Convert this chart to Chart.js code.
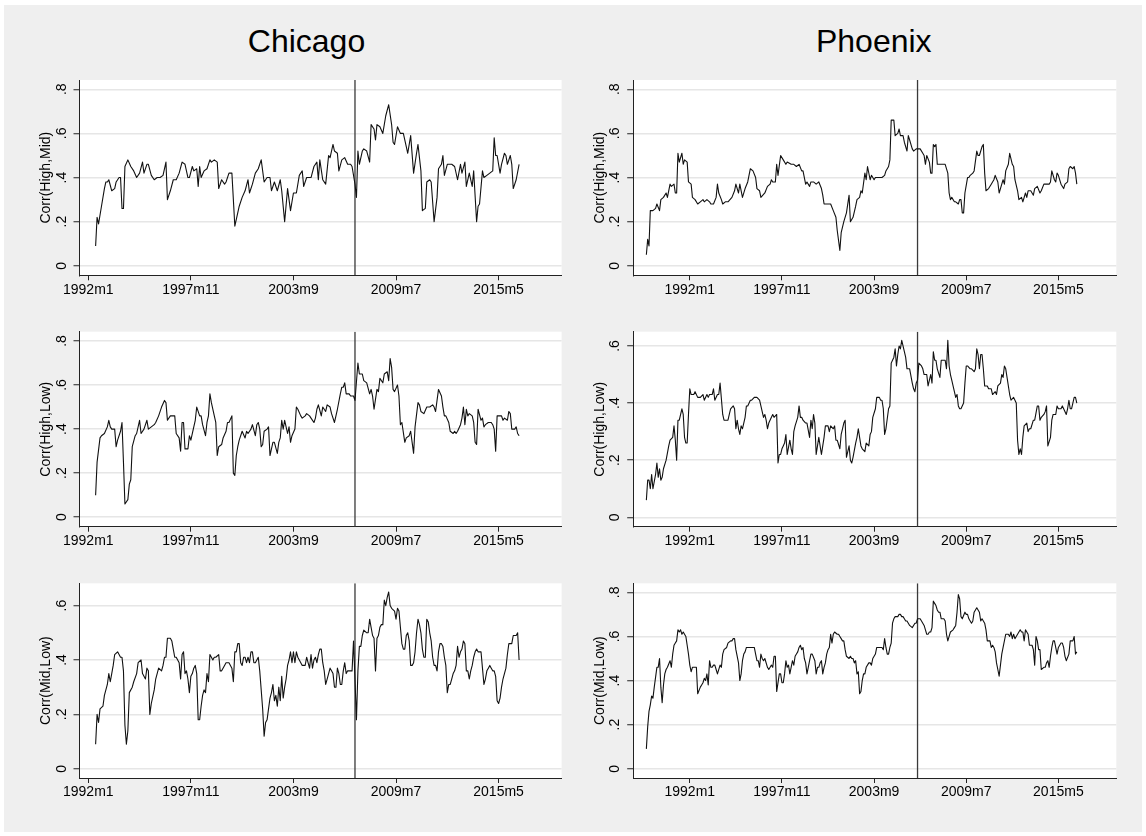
<!DOCTYPE html>
<html>
<head>
<meta charset="utf-8">
<script src="https://cdn.jsdelivr.net/npm/chart.js@4.4.0/dist/chart.umd.min.js"></script>
<style>
html,body{margin:0;padding:0;background:#ffffff;}
body{width:1146px;height:836px;position:relative;overflow:hidden;font-family:"Liberation Sans",Arial,sans-serif;}
#bg{position:absolute;left:4px;top:5px;width:1138px;height:827px;background:#efefef;}
.ttl{position:absolute;width:300px;text-align:center;font-size:32px;line-height:32px;color:#000;white-space:nowrap;}
canvas{position:absolute;}
</style>
</head>
<body>
<div id="bg"></div>
<script>
// ================= DATA =================
const cities = ['Chicago', 'Phoenix'];
const pairLabels = ['Corr(High,Mid)', 'Corr(High,Low)', 'Corr(Mid,Low)'];
// x values are months since 1992m1 (Stata monthly dates shifted)
const xTickMonths = [0, 70, 140, 210, 280];
const yTicksTo08 = [0, 0.2, 0.4, 0.6, 0.8];
const yTicksTo06 = [0, 0.2, 0.4, 0.6];
const breakMonthChicago = 182; // 2007m3
const breakMonthPhoenix = 173; // 2006m6

const chicagoHighMidMonths = [5,6,7,9,11,12,13,14,16,18,19,21,22,23,24,25,27,29,31,33,35,37,38,40,41,43,45,47,49,51,53,54,56,58,60,62,64,66,68,69,71,72,74,75,76,77,79,81,83,84,86,88,89,91,93,94,96,98,100,103,105,107,109,110,112,114,116,118,120,122,124,125,127,129,131,132,134,136,138,140,142,144,146,147,149,152,154,156,157,158,160,162,164,165,167,168,170,171,173,175,177,179,180,182,183,184,185,187,188,190,192,193,195,196,197,199,201,203,205,207,208,209,211,213,215,217,218,220,222,224,225,227,228,230,231,233,234,236,238,239,241,242,243,245,247,248,250,252,254,255,257,258,260,262,263,265,266,267,269,270,272,274,276,277,278,279,281,282,284,285,286,288,289,290,292,294];
const chicagoHighMidValues = [.09,.22,.19,.27,.35,.38,.38,.39,.34,.35,.38,.40,.40,.26,.26,.45,.48,.45,.43,.40,.42,.47,.42,.46,.46,.41,.39,.40,.40,.41,.47,.30,.34,.39,.39,.42,.47,.46,.40,.40,.45,.43,.44,.36,.45,.40,.43,.44,.48,.47,.48,.47,.35,.39,.37,.38,.42,.42,.18,.27,.31,.34,.39,.33,.37,.42,.44,.48,.38,.40,.40,.34,.38,.34,.39,.34,.20,.35,.25,.33,.33,.41,.43,.36,.40,.40,.45,.47,.39,.48,.39,.37,.50,.49,.55,.52,.51,.43,.48,.49,.46,.46,.45,.37,.31,.52,.46,.52,.53,.52,.47,.64,.62,.57,.64,.63,.60,.68,.73,.64,.56,.55,.63,.60,.60,.54,.51,.59,.42,.51,.55,.43,.25,.26,.38,.39,.38,.20,.31,.44,.46,.50,.41,.46,.46,.46,.45,.39,.46,.42,.47,.36,.42,.36,.43,.20,.27,.28,.43,.40,.41,.42,.43,.58,.50,.50,.42,.46,.51,.50,.46,.50,.46,.35,.39,.46];

const phoenixHighMidMonths = [-33,-32,-31,-30,-28,-26,-25,-23,-22,-20,-18,-17,-15,-14,-12,-11,-10,-9,-8,-6,-5,-4,-2,-1,1,2,4,6,8,10,11,13,15,16,18,20,21,22,24,25,27,29,32,34,35,37,38,40,42,44,46,48,50,51,53,54,57,59,61,62,63,65,66,67,69,71,73,74,77,79,81,83,85,86,88,89,91,92,94,96,98,100,101,102,104,106,107,109,111,112,114,115,117,119,121,122,124,126,127,129,130,131,133,134,135,137,138,140,141,144,146,148,149,151,152,153,155,156,158,159,160,162,163,165,166,167,169,170,172,173,175,177,178,179,180,182,183,184,185,186,187,188,189,191,192,194,196,197,198,199,201,202,204,205,206,207,208,209,211,212,213,215,216,218,219,220,222,223,224,225,227,229,231,232,234,235,237,238,239,240,242,243,245,246,247,249,250,252,253,255,256,257,259,261,262,264,266,267,269,271,273,274,275,277,278,279,280,282,284,285,287,288,289,291,292,293,294];
const phoenixHighMidValues = [.05,.12,.09,.25,.25,.26,.28,.25,.30,.31,.33,.31,.37,.36,.37,.33,.33,.51,.47,.51,.46,.48,.47,.38,.37,.31,.30,.28,.29,.30,.29,.30,.29,.28,.28,.31,.37,.33,.30,.28,.29,.29,.31,.34,.37,.33,.37,.31,.35,.38,.44,.43,.40,.35,.34,.31,.33,.36,.37,.39,.38,.38,.46,.41,.50,.48,.46,.47,.46,.46,.45,.46,.43,.43,.37,.38,.36,.38,.38,.37,.38,.35,.32,.28,.28,.28,.28,.25,.22,.16,.07,.15,.20,.24,.32,.20,.22,.27,.30,.31,.34,.33,.42,.39,.45,.39,.41,.39,.40,.40,.40,.41,.43,.45,.48,.66,.66,.59,.60,.62,.59,.59,.56,.52,.59,.57,.53,.52,.53,.53,.53,.51,.50,.46,.50,.47,.42,.42,.55,.54,.55,.46,.46,.46,.46,.46,.42,.33,.30,.31,.29,.29,.28,.30,.30,.24,.24,.33,.40,.40,.41,.42,.43,.52,.50,.50,.54,.55,.42,.34,.35,.37,.39,.41,.38,.33,.37,.39,.37,.43,.46,.51,.46,.45,.39,.34,.30,.31,.29,.33,.31,.34,.34,.32,.35,.36,.33,.34,.37,.37,.37,.38,.43,.39,.38,.42,.41,.37,.35,.37,.38,.44,.45,.44,.45,.42,.37];

const chicagoHighLowMonths = [5,6,8,9,11,13,14,15,16,18,19,20,22,23,24,25,27,28,29,30,32,33,35,36,38,40,41,43,45,46,48,50,52,53,54,56,57,59,60,62,63,64,65,66,68,69,70,72,73,74,76,77,78,80,81,82,83,84,86,87,88,89,91,92,94,95,96,98,99,100,101,102,103,105,107,108,109,111,112,114,115,116,117,118,119,120,122,123,124,125,126,127,129,130,131,132,133,134,136,137,138,139,141,142,143,145,146,148,149,151,152,154,155,156,157,159,160,162,163,165,166,168,169,170,172,173,174,175,176,178,179,181,182,184,185,187,188,190,192,193,194,195,197,198,199,201,202,204,205,206,207,208,209,211,212,213,214,216,217,219,220,221,222,223,225,226,227,229,231,233,235,236,237,238,239,241,242,243,244,246,247,249,250,251,252,254,255,256,257,258,259,260,262,263,264,265,266,268,269,270,271,273,275,276,277,278,279,280,282,283,284,286,287,288,289,291,292,293,294];
const chicagoHighLowValues = [.10,.25,.36,.37,.38,.41,.44,.41,.40,.40,.32,.35,.39,.43,.25,.06,.08,.15,.17,.32,.37,.38,.44,.38,.40,.44,.40,.41,.42,.43,.46,.50,.53,.52,.44,.46,.46,.46,.38,.36,.30,.43,.43,.31,.31,.37,.35,.41,.44,.50,.46,.46,.42,.37,.43,.46,.56,.52,.46,.43,.28,.32,.33,.36,.39,.43,.43,.46,.20,.19,.28,.32,.35,.39,.36,.39,.38,.40,.42,.37,.42,.43,.40,.32,.33,.39,.40,.41,.28,.31,.34,.34,.29,.34,.36,.44,.40,.44,.38,.41,.34,.37,.40,.50,.49,.46,.45,.46,.47,.46,.45,.43,.45,.49,.51,.46,.50,.48,.51,.50,.47,.43,.46,.49,.56,.59,.59,.61,.56,.56,.55,.55,.53,.70,.65,.65,.62,.61,.56,.58,.55,.49,.58,.57,.63,.61,.65,.66,.62,.72,.68,.58,.57,.60,.55,.42,.43,.34,.36,.37,.39,.34,.29,.41,.52,.51,.48,.47,.50,.50,.51,.50,.48,.53,.58,.55,.50,.46,.46,.43,.39,.38,.39,.38,.39,.42,.45,.50,.42,.49,.46,.47,.46,.43,.34,.33,.49,.44,.45,.41,.42,.43,.43,.42,.40,.30,.46,.46,.46,.44,.45,.44,.48,.47,.40,.40,.41,.38,.37];

const phoenixHighLowMonths = [-33,-32,-31,-30,-29,-28,-26,-25,-24,-23,-22,-21,-20,-18,-16,-15,-13,-12,-11,-10,-9,-8,-6,-5,-4,-3,-2,-1,0,1,3,4,6,7,8,10,11,13,14,15,17,18,19,21,22,23,25,26,27,29,30,31,33,34,35,36,37,38,39,40,42,43,44,46,47,49,51,53,54,56,57,58,59,60,62,63,64,66,67,68,69,70,71,72,73,74,76,77,78,79,80,82,83,84,85,86,88,89,91,92,93,94,95,96,97,98,100,101,102,103,105,106,107,109,110,111,112,114,115,116,117,118,119,121,122,123,124,126,127,128,130,131,133,134,136,137,138,139,141,142,144,145,146,147,148,149,151,152,153,154,155,156,157,158,159,160,161,163,164,165,166,167,169,170,171,172,173,174,176,177,178,180,181,183,184,185,186,187,188,190,191,192,194,195,196,197,198,199,200,202,203,204,205,206,208,209,210,211,213,214,216,217,218,219,220,221,222,223,224,225,226,227,229,230,232,233,234,236,237,238,239,240,241,243,244,246,247,248,249,250,251,252,253,254,256,257,258,259,261,262,264,265,266,267,269,270,271,272,274,275,276,278,279,280,282,283,284,286,287,288,289,290,291,292,293,294];
const phoenixHighLowValues = [.06,.13,.13,.10,.15,.10,.15,.19,.14,.17,.13,.14,.17,.20,.25,.27,.28,.32,.27,.20,.34,.34,.38,.36,.28,.26,.26,.36,.45,.43,.43,.44,.42,.42,.42,.43,.41,.43,.42,.43,.43,.45,.41,.43,.43,.47,.36,.34,.34,.34,.36,.38,.39,.38,.31,.34,.31,.29,.32,.31,.35,.39,.39,.41,.41,.42,.42,.41,.39,.35,.36,.34,.31,.33,.35,.36,.35,.36,.19,.22,.22,.24,.25,.26,.29,.22,.27,.24,.22,.30,.32,.35,.39,.35,.35,.34,.33,.33,.28,.34,.31,.36,.33,.22,.25,.28,.22,.25,.28,.32,.32,.30,.32,.31,.32,.27,.27,.24,.29,.31,.33,.34,.21,.25,.20,.19,.21,.26,.28,.31,.25,.24,.23,.26,.25,.29,.30,.35,.38,.42,.42,.41,.41,.38,.29,.31,.38,.39,.54,.55,.56,.59,.53,.57,.60,.59,.62,.58,.56,.52,.52,.52,.47,.45,.44,.47,.48,.54,.53,.52,.50,.50,.46,.50,.47,.58,.55,.55,.52,.49,.55,.55,.55,.52,.62,.53,.50,.48,.46,.42,.43,.39,.38,.38,.40,.47,.53,.53,.52,.52,.51,.52,.59,.57,.52,.57,.57,.52,.46,.46,.46,.45,.45,.43,.44,.43,.46,.47,.50,.49,.53,.52,.49,.43,.41,.42,.41,.40,.27,.22,.24,.22,.28,.32,.33,.30,.31,.31,.34,.34,.39,.39,.34,.35,.36,.37,.39,.25,.28,.34,.36,.36,.39,.38,.38,.39,.38,.36,.38,.41,.38,.38,.40,.42,.42,.40];

const chicagoMidLowMonths = [5,6,7,8,10,11,13,14,15,16,17,18,20,21,22,23,24,25,26,27,28,30,31,33,34,36,37,38,39,40,41,42,43,45,46,47,48,50,51,52,53,54,56,57,58,59,60,61,62,63,64,65,66,67,68,69,70,71,72,73,74,75,76,77,78,79,80,81,82,83,84,85,86,87,89,90,91,93,94,95,96,98,99,100,101,102,103,104,105,106,107,108,109,110,111,112,113,114,115,116,117,119,120,121,122,123,124,125,126,127,128,129,130,131,132,133,134,135,136,137,138,139,140,141,142,143,144,146,147,148,149,151,152,153,154,155,156,157,158,159,160,161,162,163,165,166,167,168,169,170,171,172,173,174,175,176,177,178,179,180,181,182,183,184,185,186,187,188,190,191,192,193,194,195,196,197,198,199,200,201,202,203,204,205,206,207,209,210,211,212,213,214,215,216,217,218,219,220,221,222,223,224,225,226,227,228,229,230,231,232,233,234,235,236,237,238,239,240,241,242,243,244,245,246,247,248,249,250,251,252,253,254,255,256,257,258,259,260,261,262,263,264,265,266,267,268,269,270,271,272,273,274,275,276,277,278,279,280,281,282,283,284,285,286,287,288,289,290,291,292,293,294];
const chicagoMidLowValues = [.09,.20,.17,.22,.23,.27,.31,.35,.32,.35,.38,.42,.43,.42,.41,.41,.36,.16,.09,.14,.28,.30,.32,.35,.39,.40,.35,.34,.33,.37,.36,.20,.24,.29,.33,.35,.37,.36,.38,.41,.41,.48,.48,.47,.44,.41,.41,.40,.39,.33,.42,.43,.35,.36,.33,.28,.34,.35,.37,.38,.35,.18,.18,.23,.27,.29,.28,.35,.32,.42,.41,.40,.41,.41,.42,.36,.36,.38,.39,.39,.39,.37,.32,.43,.43,.46,.46,.39,.38,.41,.41,.39,.41,.39,.43,.43,.39,.39,.40,.41,.36,.22,.12,.17,.18,.22,.26,.28,.31,.25,.27,.23,.30,.25,.34,.26,.30,.33,.38,.40,.43,.39,.43,.39,.43,.41,.40,.38,.38,.38,.41,.37,.42,.37,.40,.41,.39,.42,.44,.44,.39,.36,.31,.33,.37,.36,.35,.30,.30,.37,.35,.31,.31,.36,.39,.35,.36,.36,.36,.36,.47,.33,.18,.36,.45,.45,.49,.51,.50,.50,.55,.52,.49,.48,.36,.48,.49,.52,.53,.53,.62,.60,.63,.65,.60,.59,.58,.55,.59,.58,.52,.46,.44,.44,.49,.50,.47,.38,.38,.39,.43,.50,.55,.53,.50,.44,.41,.41,.55,.54,.50,.47,.41,.38,.38,.36,.43,.46,.46,.45,.41,.38,.28,.31,.31,.33,.35,.36,.38,.45,.41,.43,.44,.47,.46,.36,.36,.33,.36,.38,.41,.43,.44,.43,.43,.43,.37,.31,.33,.36,.37,.38,.37,.36,.36,.34,.25,.24,.26,.30,.33,.35,.37,.42,.46,.46,.46,.49,.49,.49,.50,.40];

const phoenixMidLowMonths = [-33,-32,-31,-30,-29,-28,-27,-25,-24,-23,-22,-21,-20,-19,-18,-17,-15,-14,-13,-12,-11,-10,-9,-8,-7,-6,-5,-3,-2,-1,0,1,2,3,4,5,6,8,9,10,11,12,13,14,15,16,17,18,19,20,21,23,24,25,26,28,29,31,32,33,34,35,37,38,39,40,41,42,43,45,46,48,49,50,51,52,53,54,55,56,57,59,60,61,62,63,64,65,66,68,69,70,71,72,73,74,75,76,78,79,80,81,82,83,84,85,86,87,88,89,90,91,92,93,95,96,97,98,99,100,101,102,103,104,105,106,107,108,109,110,112,113,114,115,116,117,118,119,121,122,123,124,125,126,127,128,129,130,131,132,133,134,136,137,138,139,140,141,142,143,144,146,147,148,149,150,151,152,153,154,155,156,157,158,159,160,161,162,163,164,165,166,167,169,170,171,172,173,174,175,176,178,179,180,181,182,183,184,185,186,187,188,189,190,191,192,193,194,195,196,197,198,200,201,202,203,204,205,206,207,209,210,211,212,213,214,215,216,218,219,220,221,222,223,224,225,226,228,229,230,231,232,233,234,235,236,237,238,240,241,242,243,244,245,246,247,248,249,251,252,253,254,255,256,257,258,260,261,262,263,264,265,266,267,269,270,271,272,273,274,275,276,277,279,280,281,282,283,284,285,286,288,289,290,291,292,293,294];
const phoenixMidLowValues = [.09,.19,.26,.29,.33,.32,.37,.46,.46,.50,.37,.30,.38,.43,.45,.46,.49,.46,.52,.56,.57,.58,.63,.62,.63,.61,.62,.60,.56,.52,.47,.44,.46,.46,.46,.46,.34,.37,.38,.39,.41,.40,.43,.38,.49,.46,.46,.47,.47,.45,.43,.47,.46,.52,.54,.55,.57,.58,.58,.59,.59,.54,.48,.40,.43,.49,.52,.53,.55,.55,.55,.55,.55,.52,.49,.49,.46,.52,.50,.49,.50,.46,.45,.46,.47,.46,.51,.51,.35,.43,.43,.39,.39,.43,.49,.46,.47,.43,.49,.47,.51,.52,.53,.55,.56,.54,.55,.50,.48,.43,.46,.49,.52,.52,.49,.43,.46,.46,.48,.49,.43,.46,.48,.52,.54,.55,.61,.57,.61,.62,.61,.61,.60,.59,.58,.58,.54,.51,.50,.51,.50,.50,.48,.49,.43,.44,.34,.35,.40,.43,.43,.46,.48,.48,.47,.50,.51,.52,.55,.55,.55,.55,.54,.59,.55,.52,.52,.55,.57,.66,.68,.69,.69,.69,.70,.70,.69,.69,.68,.67,.67,.66,.65,.64,.65,.66,.66,.68,.68,.68,.67,.65,.63,.61,.61,.62,.62,.64,.76,.75,.74,.72,.71,.71,.68,.68,.68,.67,.61,.58,.60,.62,.63,.64,.65,.71,.79,.77,.69,.68,.71,.70,.70,.68,.67,.66,.67,.71,.73,.72,.71,.67,.68,.67,.66,.63,.58,.58,.55,.56,.55,.53,.48,.45,.42,.47,.52,.55,.61,.61,.61,.60,.62,.59,.61,.59,.60,.61,.63,.62,.62,.58,.63,.62,.61,.56,.56,.54,.47,.60,.58,.54,.54,.45,.46,.46,.48,.49,.46,.51,.55,.58,.58,.52,.55,.56,.57,.57,.55,.51,.49,.52,.58,.58,.58,.60,.52,.53];

// ================= PANEL SETUP =================
const panels = [
  {row:0, col:0, months:chicagoHighMidMonths, values:chicagoHighMidValues, yTicks:yTicksTo08, yMin:-0.043, yMax:0.842, brk:breakMonthChicago},
  {row:0, col:1, months:phoenixHighMidMonths, values:phoenixHighMidValues, yTicks:yTicksTo08, yMin:-0.043, yMax:0.842, brk:breakMonthPhoenix},
  {row:1, col:0, months:chicagoHighLowMonths, values:chicagoHighLowValues, yTicks:yTicksTo08, yMin:-0.043, yMax:0.842, brk:breakMonthChicago},
  {row:1, col:1, months:phoenixHighLowMonths, values:phoenixHighLowValues, yTicks:yTicksTo06, yMin:-0.033, yMax:0.650, brk:breakMonthPhoenix},
  {row:2, col:0, months:chicagoMidLowMonths, values:chicagoMidLowValues, yTicks:yTicksTo06, yMin:-0.034, yMax:0.682, brk:breakMonthChicago},
  {row:2, col:1, months:phoenixMidLowMonths, values:phoenixMidLowValues, yTicks:yTicksTo08, yMin:-0.042, yMax:0.841, brk:breakMonthPhoenix}
];
const xRanges = [[-6, 323], [-43, 324]];

// layout (pixels)
const rowBox = [{top:80, bottom:275.3}, {top:331.7, bottom:526.7}, {top:583.3, bottom:778}];
const colBox = [
  {canvasLeft:4,   canvasRight:566,  plotLeft:79.5,  plotRight:561.6,  yTitleX:46.2,  titleX:306.5},
  {canvasLeft:575, canvasRight:1122, plotLeft:633.2, plotRight:1116.3, yTitleX:600.5, titleX:873.8}
];

Chart.defaults.font.family = "'Liberation Sans', Arial, sans-serif";
Chart.defaults.font.size = 14;
Chart.defaults.color = '#000';

const fmtMonth = m => (1992 + Math.floor(m / 12)) + 'm' + (((m % 12) + 12) % 12 + 1);
const fmtCorr = v => (Math.abs(v) < 1e-9 ? '0' : String(+v.toFixed(1)).replace(/^0\./, '.'));

// titles
cities.forEach((name, c) => {
  const d = document.createElement('div');
  d.className = 'ttl';
  d.textContent = name;
  d.style.left = (colBox[c].titleX - 150) + 'px';
  d.style.top = '24.6px';
  document.body.appendChild(d);
});

const plotBg = {
  id: 'plotBg',
  beforeDraw(ch) {
    const a = ch.chartArea, ctx = ch.ctx;
    ctx.save();
    ctx.fillStyle = '#ffffff';
    ctx.fillRect(a.left, a.top, a.right - a.left, a.bottom - a.top);
    ctx.restore();
  }
};

panels.forEach(p => {
  const r = rowBox[p.row], c = colBox[p.col];
  const top = Math.floor(r.top - 10);
  const padTop = r.top - top;
  const height = Math.ceil(r.bottom + 35 - top);
  const axisH = height - (r.bottom - top);
  const width = c.canvasRight - c.canvasLeft;
  const padRight = c.canvasRight - c.plotRight;
  const yAxisW = c.plotLeft - c.canvasLeft;
  const titlePad = (c.yTitleX - c.canvasLeft) - 8.4;

  const cv = document.createElement('canvas');
  cv.width = width; cv.height = height;
  cv.style.left = c.canvasLeft + 'px';
  cv.style.top = top + 'px';
  cv.style.width = width + 'px'; cv.style.height = height + 'px';
  document.body.appendChild(cv);

  const n = Math.min(p.months.length, p.values.length);
  const pts = [];
  for (let k = 0; k < n; k++) pts.push({x: p.months[k], y: p.values[k]});
  const xr = xRanges[p.col];

  new Chart(cv, {
    type: 'line',
    data: {
      datasets: [
        {data: pts, borderColor: '#111111', borderWidth: 1.1, pointRadius: 0, tension: 0, borderJoinStyle: 'round', fill: false},
        {data: [{x: p.brk, y: p.yMin}, {x: p.brk, y: p.yMax}], borderColor: '#3a3a3a', borderWidth: 1.3, pointRadius: 0, fill: false}
      ]
    },
    options: {
      responsive: false,
      animation: false,
      devicePixelRatio: 1,
      parsing: false,
      layout: {padding: {top: padTop, right: padRight, left: 0, bottom: 0}},
      plugins: {legend: {display: false}, tooltip: {enabled: false}},
      scales: {
        x: {
          type: 'linear', min: xr[0], max: xr[1],
          afterBuildTicks: s => { s.ticks = xTickMonths.map(v => ({value: v})); },
          afterFit: s => { s.height = axisH; s.paddingLeft = 0; s.paddingRight = 0; },
          ticks: {callback: v => fmtMonth(v), autoSkip: false, minRotation: 0, maxRotation: 0, padding: 1, color: '#000', font: {size: 14}},
          grid: {drawOnChartArea: false, drawTicks: true, tickLength: 5, tickColor: '#222', tickWidth: 1},
          border: {display: true, color: '#222', width: 1}
        },
        y: {
          type: 'linear', min: p.yMin, max: p.yMax,
          afterBuildTicks: s => { s.ticks = p.yTicks.map(v => ({value: v})); },
          afterFit: s => { s.width = yAxisW; s.paddingTop = 0; s.paddingBottom = 0; },
          ticks: {callback: v => fmtCorr(v), minRotation: 90, maxRotation: 90, crossAlign: 'center', padding: 6, color: '#000', font: {size: 14}},
          grid: {color: '#e6e6e6', lineWidth: 1.5, drawTicks: true, tickLength: 6, tickColor: '#222', tickWidth: 1},
          border: {display: true, color: '#222', width: 1},
          title: {display: true, text: pairLabels[p.row], color: '#000', font: {size: 14}, padding: {top: titlePad, bottom: 0}}
        }
      }
    },
    plugins: [plotBg]
  });
});
</script>
</body>
</html>
